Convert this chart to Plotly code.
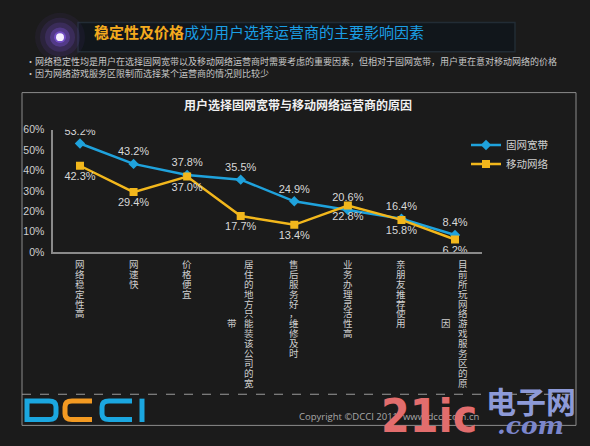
import plotly.graph_objects as go

W, H = 590, 446

# data
categories = ["网络稳定性高", "网速快", "价格便宜", "居住的地方只能装该公司的宽带",
              "售后服务好，维修及时", "业务办理灵活性高", "亲朋友推荐使用",
              "目前所玩网络游戏服务区的原因"]
fixed_bb = [53.2, 43.2, 37.8, 35.5, 24.9, 20.6, 16.4, 8.4]
mobile_net = [42.3, 29.4, 37.0, 17.7, 13.4, 22.8, 15.8, 6.2]
series_names = ["固网宽带", "移动网络"]
y_ticks = [0, 10, 20, 30, 40, 50, 60]

header_hi = "稳定性及价格"
header_rest = "成为用户选择运营商的主要影响因素"
bullets = ["•网络稳定性均是用户在选择固网宽带以及移动网络运营商时需要考虑的重要因素，但相对于固网宽带，用户更在意对移动网络的价格",
           "•因为网络游戏服务区限制而选择某个运营商的情况则比较少"]
chart_title = "用户选择固网宽带与移动网络运营商的原因"
copyright_txt = "Copyright ©DCCI 2011  www.dcci.com.cn"

BG = "#1b1b1b"
BLUE = "#1fa2dc"
YELLOW = "#f2b71c"
CJK = "Noto Sans CJK SC"


def px(x):
    return x / W


def py(y):
    return 1 - y / H


fig = go.Figure()
fig.add_trace(go.Scatter(
    x=categories, y=fixed_bb, name=series_names[0], mode="lines+markers+text",
    line=dict(color=BLUE, width=2.5), marker=dict(symbol="diamond", size=8, color=BLUE),
    text=[f"{v:.1f}%" for v in fixed_bb], textposition="top center",
    textfont=dict(size=11, color="#d8d8d8", family="Liberation Sans")))
fig.add_trace(go.Scatter(
    x=categories, y=mobile_net, name=series_names[1], mode="lines+markers+text",
    line=dict(color=YELLOW, width=2.5), marker=dict(symbol="square", size=8, color=YELLOW),
    text=[f"{v:.1f}%" for v in mobile_net], textposition="bottom center",
    textfont=dict(size=11, color="#d8d8d8", family="Liberation Sans")))

shapes = []
annotations = []

# header decoration
shapes.append(dict(type="rect", xref="paper", yref="paper", x0=px(78), x1=px(515),
                   y0=py(47), y1=py(17), fillcolor="#11161b", line=dict(color="#222c35", width=1.5), layer="below"))
for r, op in [(25, 0.06), (20, 0.1), (15, 0.16), (10, 0.3), (6, 0.55)]:
    shapes.append(dict(type="circle", xref="paper", yref="paper", x0=px(60 - r), x1=px(60 + r),
                       y0=py(32 + r), y1=py(32 - r), fillcolor="#8a5cf5", opacity=op, line_width=0))
shapes.append(dict(type="circle", xref="paper", yref="paper", x0=px(56), x1=px(64),
                   y0=py(36), y1=py(28), fillcolor="#f4f0ff", line_width=0))

annotations.append(dict(
    xref="paper", yref="paper", x=px(92), y=py(26), xanchor="left", yanchor="middle", showarrow=False,
    text=f"<b><span style='color:#f4aa1e'>{header_hi}</span></b><span style='color:#1a9ee4'>{header_rest}</span>",
    font=dict(size=15, family=CJK)))
for i, b in enumerate(bullets):
    annotations.append(dict(xref="paper", yref="paper", x=px(24), y=py(57 + 12 * i), xanchor="left",
                            yanchor="middle", showarrow=False, text=b,
                            font=dict(size=9, family=CJK, color="#c8c8c8")))

# frame
shapes.append(dict(type="rect", xref="paper", yref="paper", x0=px(22), x1=px(576), y0=py(431), y1=py(89),
                   line=dict(color="#8c8c8c", width=1)))
shapes.append(dict(type="line", xref="paper", yref="paper", x0=px(22), x1=px(576), y0=py(399), y1=py(399),
                   line=dict(color="#9a9a9a", width=1, dash="dash")))

annotations.append(dict(xref="paper", yref="paper", x=px(298), y=py(101), yanchor="middle", showarrow=False,
                        text=f"<b>{chart_title}</b>", font=dict(size=12, family=CJK, color="#f0f0f0")))

# vertical category labels (max 13 chars per column, extra columns to the left)
char_h = 10.2
for cat in categories:
    cols = [cat[i:i + 13] for i in range(0, len(cat), 13)]
    n = len(cols)
    for ci, col in enumerate(cols):
        xs = (n - 1) * 8 - ci * 17
        if ci == 0:
            top = 265
        else:
            top = 265 + (len(cols[0]) - len(col)) * char_h / 2
        for k, ch in enumerate(col):
            annotations.append(dict(xref="x", yref="paper", x=cat, y=py(top + k * char_h),
                                    xshift=xs, showarrow=False, yanchor="middle", text=ch,
                                    font=dict(size=9.5, family=CJK, color="#cfcfcf")))


# DCCI logo
def letter_d(x0, x1, color):
    a, b = px(x0), px(x1)
    c = px(x1 - 7)
    t, m1, m2, bt = py(406), py(412), py(419), py(425)
    return dict(type="path", xref="paper", yref="paper",
                path=f"M{a},{t} L{c},{t} Q{b},{t} {b},{m1} L{b},{m2} Q{b},{bt} {c},{bt} L{a},{bt} Z",
                line=dict(color=color, width=5))


def letter_c(x0, x1, color):
    a, b = px(x0), px(x1)
    c = px(x0 + 7)
    t, m1, m2, bt = py(406), py(412), py(419), py(425)
    return dict(type="path", xref="paper", yref="paper",
                path=f"M{b},{t} L{c},{t} Q{a},{t} {a},{m1} L{a},{m2} Q{a},{bt} {c},{bt} L{b},{bt}",
                line=dict(color=color, width=5))


shapes.append(letter_d(27, 56, "#1ba7e0"))
shapes.append(letter_c(65, 92, "#f39a22"))
shapes.append(letter_c(102, 132, "#1ba7e0"))
shapes.append(dict(type="line", xref="paper", yref="paper", x0=px(142), x1=px(142), y0=py(403.5), y1=py(427.5),
                   line=dict(color="#1ba7e0", width=5)))

annotations.append(dict(xref="paper", yref="paper", x=px(297), y=py(422), xanchor="left", yanchor="middle",
                        showarrow=False, text=copyright_txt,
                        font=dict(size=9.5, family="Open Sans", color="#a8a8a8")))

# watermark
annotations.append(dict(xref="paper", yref="paper", x=px(429), y=py(421), xanchor="center", yanchor="middle",
                        showarrow=False, text="<b>21ic</b>",
                        font=dict(size=46, family="Liberation Sans Narrow, DejaVu Sans Condensed, Liberation Sans, sans-serif",
                                  color="#e26d6d")))
annotations.append(dict(xref="paper", yref="paper", x=px(531), y=py(405), xanchor="center", yanchor="middle",
                        showarrow=False, text="<b>电子网</b>",
                        font=dict(size=30, family=CJK, color="#8d9ad8")))
annotations.append(dict(xref="paper", yref="paper", x=px(530), y=py(431), xanchor="center", yanchor="middle",
                        showarrow=False, text="<b><i>.com</i></b>",
                        font=dict(size=25, family="DejaVu Serif", color="#7b86cc")))

fig.update_layout(
    width=W, height=H, margin=dict(l=0, r=0, t=0, b=0),
    paper_bgcolor=BG, plot_bgcolor=BG,
    shapes=shapes, annotations=annotations,
    showlegend=True,
    legend=dict(x=px(466), y=py(128), xanchor="left", yanchor="top", bgcolor="rgba(0,0,0,0)",
                font=dict(size=10.5, family=CJK, color="#d0d0d0"), tracegroupgap=0, itemwidth=30),
    xaxis=dict(domain=[px(53.2), px(481.8)], range=[-0.5, 7.5], showticklabels=False, showgrid=False,
               zeroline=False, showline=True, linecolor="#8a8a8a", linewidth=1.5, fixedrange=True),
    yaxis=dict(domain=[py(253), py(127)], range=[0, 60], tickmode="array", tickvals=y_ticks,
               ticktext=[f"{v}%" for v in y_ticks],
               showgrid=False, zeroline=False, showline=True, linecolor="#8a8a8a", linewidth=1.5,
               ticks="", ticklabelstandoff=5, fixedrange=True,
               tickfont=dict(size=10.5, family="Liberation Sans", color="#d0d0d0")),
)

fig.write_html("out.html", config={"displayModeBar": False},
               post_script="document.body.style.margin='0';document.body.style.background='#1b1b1b';")
